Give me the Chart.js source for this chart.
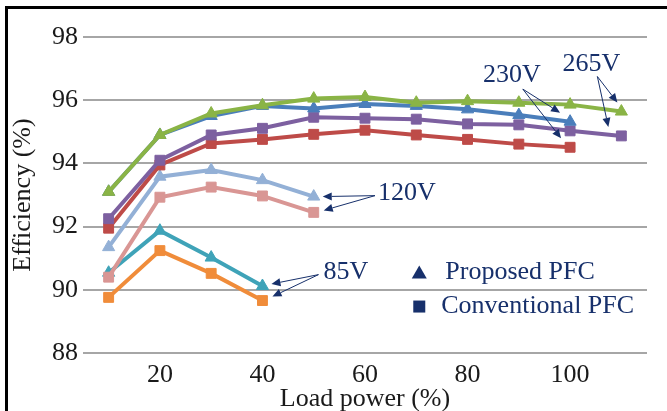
<!DOCTYPE html>
<html>
<head>
<meta charset="utf-8">
<script src="https://cdn.jsdelivr.net/npm/chart.js@4"></script>
<style>
  html, body { margin: 0; padding: 0; background: #fff; }
  #wrap { width: 667px; height: 411px; }
</style>
</head>
<body>
<div id="wrap"><canvas id="effChart" width="667" height="411"></canvas></div>
<script>
// load points (% of rated power); only the even ones get a tick label
const loads = ['10', '20', '30', '40', '50', '60', '70', '80', '90', '100', '110'];
const shownLoads = ['20', '40', '60', '80', '100'];

// efficiency (%)
const eff265Proposed = [93.1, 94.9, 95.58, 95.84, 96.05, 96.1, 95.92, 95.97, 95.92, 95.86, 95.64];
const eff230Proposed = [93.1, 94.9, 95.5, 95.82, 95.74, 95.88, 95.82, 95.71, 95.53, 95.32];
const eff265Conventional = [92.25, 94.1, 94.9, 95.11, 95.46, 95.43, 95.4, 95.25, 95.22, 95.03, 94.87];
const eff230Conventional = [91.95, 93.95, 94.63, 94.76, 94.92, 95.05, 94.9, 94.76, 94.61, 94.51];
const eff120Proposed = [91.35, 93.58, 93.79, 93.47, 92.95];
const eff120Conventional = [90.4, 92.93, 93.25, 92.97, 92.45];
const eff85Proposed = [90.54, 91.87, 91.02, 90.12];
const eff85Conventional = [89.76, 91.24, 90.52, 89.66];

const SERIF = "'Liberation Serif', 'Times New Roman', serif";
const NAVY = '#17306b';

document.addEventListener('DOMContentLoaded', function () {
  const ctx = document.getElementById('effChart').getContext('2d');

  const line = (label, data, color, style) => ({
    label,
    data,
    borderColor: color,
    backgroundColor: color,
    borderWidth: 4,
    pointStyle: style,
    pointRadius: 7,
    pointBorderWidth: 1,
    pointBorderColor: color,
    tension: 0
  });

  // first dataset ends up on top
  const datasets = [
    line('265V proposed', eff265Proposed, '#8ab446', 'triangle'),
    line('230V proposed', eff230Proposed, '#4a7ebb', 'triangle'),
    line('265V conventional', eff265Conventional, '#7d60a0', 'rect'),
    line('230V conventional', eff230Conventional, '#be4b48', 'rect'),
    line('120V proposed', eff120Proposed, '#93b0d6', 'triangle'),
    line('120V conventional', eff120Conventional, '#d99694', 'rect'),
    line('85V proposed', eff85Proposed, '#3fa3b8', 'triangle'),
    line('85V conventional', eff85Conventional, '#f08c3a', 'rect')
  ];

  const drawArrow = (c, x1, y1, x2, y2) => {
    const a = Math.atan2(y2 - y1, x2 - x1);
    const len = 9, half = 4;
    const bx = x2 - Math.cos(a) * len, by = y2 - Math.sin(a) * len;
    c.beginPath();
    c.moveTo(x1, y1);
    c.lineTo(bx, by);
    c.stroke();
    c.beginPath();
    c.moveTo(x2, y2);
    c.lineTo(bx - Math.sin(a) * half, by + Math.cos(a) * half);
    c.lineTo(bx + Math.sin(a) * half, by - Math.cos(a) * half);
    c.closePath();
    c.fill();
  };

  const frame = {
    id: 'frame',
    beforeDraw(chart) {
      const c = chart.ctx;
      c.save();
      c.fillStyle = '#fff';
      c.fillRect(0, 0, chart.width, chart.height);
      c.fillStyle = '#000';
      c.fillRect(5, 6, chart.width - 5, 3);
      c.fillRect(5, 6, 3, chart.height - 6);
      c.restore();
    }
  };

  // voltage callouts and the marker legend
  const callouts = {
    id: 'callouts',
    afterDatasetsDraw(chart) {
      const c = chart.ctx;
      const x = chart.scales.x, y = chart.scales.y;
      const px = (i) => x.getPixelForValue(i);
      const py = (v) => y.getPixelForValue(v);

      c.save();
      c.fillStyle = NAVY;
      c.strokeStyle = NAVY;
      c.lineWidth = 1;
      c.font = '26px ' + SERIF;
      c.textBaseline = 'middle';
      c.textAlign = 'center';

      c.fillText('230V', px(8) - 7, py(96.8));
      drawArrow(c, px(8) + 4, py(96.35), px(9) - 10, py(eff230Proposed[9]) - 9);
      drawArrow(c, px(8) + 4, py(96.35), px(9) - 9, py(eff230Conventional[9]) - 9);

      c.fillText('265V', px(10) - 30, py(97.15));
      drawArrow(c, px(10) - 24, py(96.75), px(10) - 4, py(eff265Proposed[10]) - 9);
      drawArrow(c, px(10) - 24, py(96.75), px(10) - 13, py(eff265Conventional[10]) - 9);

      c.textAlign = 'left';
      c.fillText('120V', px(5) + 13, py(93.05));
      drawArrow(c, px(5) + 10, py(92.98), px(4) + 9, py(eff120Proposed[4]));
      drawArrow(c, px(5) + 10, py(92.98), px(4) + 10, py(eff120Conventional[4]) - 2);

      c.fillText('85V', px(3) + 61, py(90.55));
      drawArrow(c, px(3) + 56, py(90.48), px(3) + 9, py(eff85Proposed[3]) - 2);
      drawArrow(c, px(3) + 56, py(90.48), px(3) + 10, py(eff85Conventional[3]) - 4);

      // legend
      const lx = px(6) + 3;
      const ty = py(90.55), sy = py(89.47);
      c.beginPath();
      c.moveTo(lx, ty - 7);
      c.lineTo(lx + 7.5, ty + 6);
      c.lineTo(lx - 7.5, ty + 6);
      c.closePath();
      c.fill();
      c.fillRect(lx - 6, sy - 6, 12, 12);
      c.fillText('Proposed PFC', lx + 26, ty);
      c.fillText('Conventional PFC', lx + 22, sy);
      c.restore();
    }
  };

  new Chart(ctx, {
    type: 'line',
    data: { labels: loads, datasets },
    options: {
      responsive: false,
      animation: false,
      layout: { padding: { left: 3, right: 20, top: 37, bottom: 0 } },
      plugins: {
        legend: { display: false },
        tooltip: { enabled: false }
      },
      scales: {
        x: {
          type: 'category',
          offset: true,
          grid: { display: false },
          border: { display: false },
          ticks: {
            autoSkip: false,
            maxRotation: 0,
            padding: 1,
            color: '#1a1a1a',
            font: { family: SERIF, size: 26, lineHeight: 1 },
            callback: function (val) {
              const l = this.getLabelForValue(val);
              return shownLoads.includes(l) ? l : '';
            }
          },
          title: {
            display: true,
            text: 'Load power (%)',
            color: '#1a1a1a',
            padding: 0,
            font: { family: SERIF, size: 26, lineHeight: 0.9 }
          },
          afterFit: (scale) => { scale.height = 58; }
        },
        y: {
          min: 88,
          max: 98,
          grid: { color: '#a6a6a6', lineWidth: 2, drawTicks: false },
          border: { display: false },
          ticks: {
            stepSize: 2,
            padding: 5,
            color: '#1a1a1a',
            font: { family: SERIF, size: 26 }
          },
          title: {
            display: true,
            text: 'Efficiency (%)',
            color: '#1a1a1a',
            padding: { top: 7, bottom: 0 },
            font: { family: SERIF, size: 26, lineHeight: 1 }
          },
          afterFit: (scale) => { scale.width = 80; }
        }
      }
    },
    plugins: [frame, callouts]
  });
});
</script>
</body>
</html>
